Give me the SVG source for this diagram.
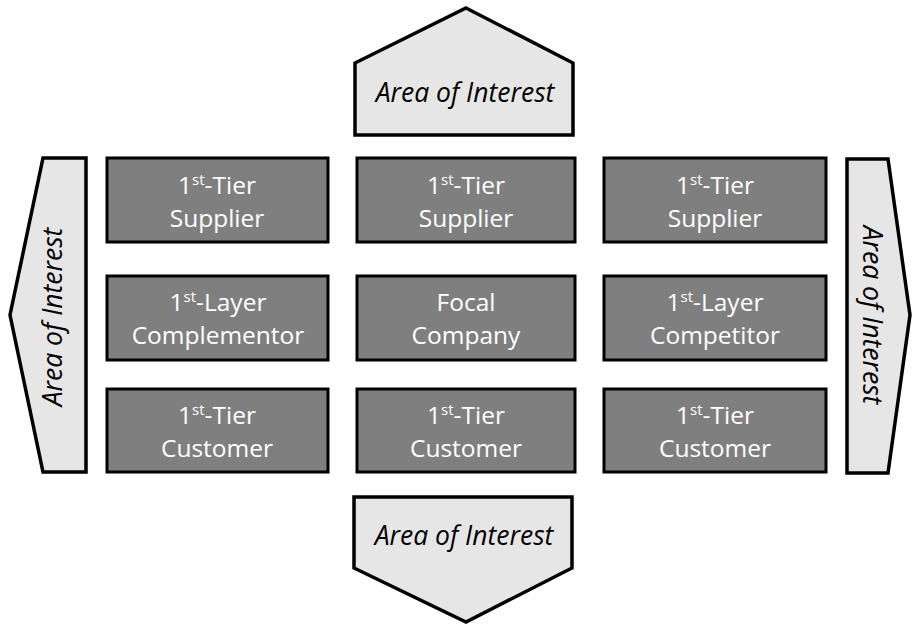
<svg xmlns="http://www.w3.org/2000/svg" width="912" height="624" viewBox="0 0 912 624">
  <style>
    .box { fill: #7f7f7f; stroke: #000; stroke-width: 3; }
    .aoi { fill: #e6e6e6; stroke: #000; stroke-width: 3.5; stroke-linejoin: miter; }
    .lbl { font-family: "Open Sans", "Noto Sans", sans-serif; font-size: 24.5px; fill: #fff; text-anchor: middle; }
    .sup { font-size: 15px; }
    .aoit { font-family: "Open Sans", "Noto Sans", sans-serif; font-size: 26.5px; font-style: italic; fill: #000; text-anchor: middle; }
  </style>

  <!-- outer areas of interest -->
  <g id="aoi-top">
    <polygon class="aoi" points="466,8 573,63 573,135 355,135 355,63"/>
    <text class="aoit" x="465" y="102">Area of Interest</text>
  </g>
  <g id="aoi-bottom">
    <polygon class="aoi" points="354,497 572,497 572,568 466,622 354,568"/>
    <text class="aoit" x="464" y="545">Area of Interest</text>
  </g>
  <g id="aoi-left">
    <polygon class="aoi" points="43,158 86,158 86,472 43,472 10,315"/>
    <text class="aoit" transform="translate(62,317) rotate(-90)" x="0" y="0">Area of Interest</text>
  </g>
  <g id="aoi-right">
    <polygon class="aoi" points="847,159 888,159 910,315 888,473 847,473"/>
    <text class="aoit" transform="translate(863,315) rotate(90)" x="0" y="0">Area of Interest</text>
  </g>

  <!-- row 1: suppliers -->
  <g id="supplier-left">
    <rect class="box" x="107" y="158" width="221" height="84"/>
    <text class="lbl" x="217" y="194">1<tspan class="sup" dy="-9">st</tspan><tspan dy="9">-Tier</tspan></text>
    <text class="lbl" x="217" y="227">Supplier</text>
  </g>
  <g id="supplier-center">
    <rect class="box" x="357" y="158" width="218" height="84"/>
    <text class="lbl" x="466" y="194">1<tspan class="sup" dy="-9">st</tspan><tspan dy="9">-Tier</tspan></text>
    <text class="lbl" x="466" y="227">Supplier</text>
  </g>
  <g id="supplier-right">
    <rect class="box" x="604" y="158" width="222" height="84"/>
    <text class="lbl" x="715" y="194">1<tspan class="sup" dy="-9">st</tspan><tspan dy="9">-Tier</tspan></text>
    <text class="lbl" x="715" y="227">Supplier</text>
  </g>

  <!-- row 2: complementor, focal company, competitor -->
  <g id="complementor">
    <rect class="box" x="107" y="276" width="221" height="84"/>
    <text class="lbl" x="218" y="311">1<tspan class="sup" dy="-9">st</tspan><tspan dy="9">-Layer</tspan></text>
    <text class="lbl" x="218" y="344">Complementor</text>
  </g>
  <g id="focal-company">
    <rect class="box" x="357" y="276" width="218" height="84"/>
    <text class="lbl" x="466" y="311">Focal</text>
    <text class="lbl" x="466" y="344">Company</text>
  </g>
  <g id="competitor">
    <rect class="box" x="604" y="276" width="222" height="84"/>
    <text class="lbl" x="715" y="311">1<tspan class="sup" dy="-9">st</tspan><tspan dy="9">-Layer</tspan></text>
    <text class="lbl" x="715" y="344">Competitor</text>
  </g>

  <!-- row 3: customers -->
  <g id="customer-left">
    <rect class="box" x="107" y="389" width="221" height="83"/>
    <text class="lbl" x="217" y="424">1<tspan class="sup" dy="-9">st</tspan><tspan dy="9">-Tier</tspan></text>
    <text class="lbl" x="217" y="457">Customer</text>
  </g>
  <g id="customer-center">
    <rect class="box" x="357" y="389" width="218" height="83"/>
    <text class="lbl" x="466" y="424">1<tspan class="sup" dy="-9">st</tspan><tspan dy="9">-Tier</tspan></text>
    <text class="lbl" x="466" y="457">Customer</text>
  </g>
  <g id="customer-right">
    <rect class="box" x="604" y="389" width="222" height="83"/>
    <text class="lbl" x="715" y="424">1<tspan class="sup" dy="-9">st</tspan><tspan dy="9">-Tier</tspan></text>
    <text class="lbl" x="715" y="457">Customer</text>
  </g>

  <g id="connectors"></g>
</svg>
